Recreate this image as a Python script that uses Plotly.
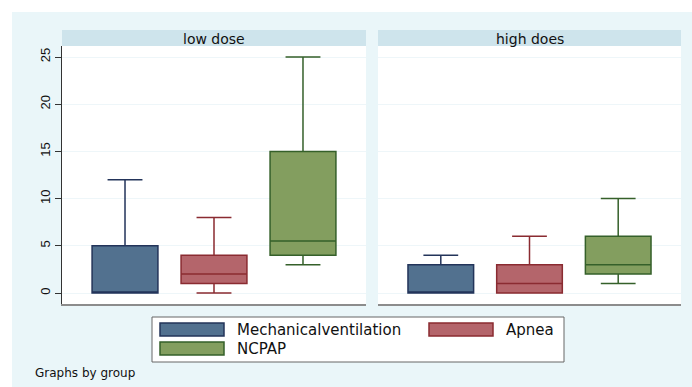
import plotly.graph_objects as go

W, H = 692, 387

panels = ["low dose", "high does"]
series = ["Mechanicalventilation", "Apnea", "NCPAP"]
positions = [-1, 0, 1]

# box statistics per panel, per series
lowerfence = {"low dose": [0, 0, 3], "high does": [0, 0, 1]}
q1 = {"low dose": [0, 1, 4], "high does": [0, 0, 2]}
median = {"low dose": [0, 2, 5.5], "high does": [0, 1, 3]}
q3 = {"low dose": [5, 4, 15], "high does": [3, 3, 6]}
upperfence = {"low dose": [12, 8, 25], "high does": [4, 6, 10]}

yticks = [0, 5, 10, 15, 20, 25]

fills = ["#52718F", "#B4656B", "#839E5F"]
lines = ["#23345A", "#8A2B31", "#35602A"]

FONT = "DejaVu Sans"
BG = "#EAF6F9"
STRIP = "#CEE4EC"

def px_x(p):
    return p / W

def px_y(p):
    return 1 - p / H

fig = go.Figure()
for pi, panel in enumerate(panels):
    xa = "x" if pi == 0 else "x2"
    ya = "y" if pi == 0 else "y2"
    for si, s in enumerate(series):
        fig.add_trace(go.Box(
            x=[positions[si]],
            q1=[q1[panel][si]], median=[median[panel][si]], q3=[q3[panel][si]],
            lowerfence=[lowerfence[panel][si]], upperfence=[upperfence[panel][si]],
            width=0.74, whiskerwidth=0.53,
            fillcolor=fills[si], line=dict(color=lines[si], width=1.5),
            boxpoints=False, name=s, showlegend=False,
            xaxis=xa, yaxis=ya,
        ))

dom1 = [px_x(62), px_x(366)]
dom2 = [px_x(378), px_x(681)]
ydom = [px_y(304), px_y(46)]
yr = [-1.165, 26.165]

xcommon = dict(range=[-1.708, 1.708], showticklabels=False, ticks="", showgrid=False,
               zeroline=False, showline=True, linecolor="#8C8C8C", linewidth=1.5)
fig.update_layout(
    width=W, height=H,
    margin=dict(l=0, r=0, t=0, b=0),
    paper_bgcolor=BG, plot_bgcolor="white",
    showlegend=False,
    font=dict(family=FONT, color="#111111"),
    xaxis=dict(domain=dom1, anchor="y", **xcommon),
    xaxis2=dict(domain=dom2, anchor="y2", **xcommon),
    yaxis=dict(domain=ydom, range=yr, anchor="x", tickvals=yticks,
               ticktext=[str(v) for v in yticks], tickangle=-90,
               ticks="outside", ticklen=6, tickcolor="#333333", tickwidth=1,
               showline=True, linecolor="#333333", linewidth=1.2,
               showgrid=True, gridcolor="#EEF6F9", gridwidth=1, zeroline=False,
               tickfont=dict(family="Liberation Sans", size=13, color="#111111"),
               automargin=False),
    yaxis2=dict(domain=ydom, range=yr, anchor="x2", tickvals=yticks,
                showticklabels=False, ticks="", showline=False,
                showgrid=True, gridcolor="#EEF6F9", gridwidth=1, zeroline=False),
)

shapes = []
annotations = []
# white outer strips
shapes.append(dict(type="rect", xref="paper", yref="paper", x0=0, x1=1,
                   y0=px_y(12), y1=1, fillcolor="white", line=dict(width=0), layer="above"))
shapes.append(dict(type="rect", xref="paper", yref="paper", x0=0, x1=px_x(12),
                   y0=0, y1=1, fillcolor="white", line=dict(width=0), layer="above"))
# strip headers
for dom, panel in zip([dom1, dom2], panels):
    shapes.append(dict(type="rect", xref="paper", yref="paper", x0=dom[0], x1=dom[1],
                       y0=px_y(46), y1=px_y(30), fillcolor=STRIP, line=dict(width=0)))
    annotations.append(dict(xref="paper", yref="paper", x=(dom[0] + dom[1]) / 2,
                            y=px_y(38.5), text=panel, showarrow=False,
                            font=dict(family=FONT, size=14, color="#111111"),
                            xanchor="center", yanchor="middle"))
# legend
shapes.append(dict(type="rect", xref="paper", yref="paper", x0=px_x(152), x1=px_x(564),
                   y0=px_y(362), y1=px_y(317), fillcolor="white",
                   line=dict(color="#666666", width=1)))
legend_pos = [(160, 323), (429, 323), (160, 342)]
for si, s in enumerate(series):
    lx, ly = legend_pos[si]
    shapes.append(dict(type="rect", xref="paper", yref="paper", x0=px_x(lx), x1=px_x(lx + 64),
                       y0=px_y(ly + 13), y1=px_y(ly), fillcolor=fills[si],
                       line=dict(color=lines[si], width=1.5)))
    annotations.append(dict(xref="paper", yref="paper", x=px_x(lx + 75), y=px_y(ly + 6.5),
                            text=s, showarrow=False, xanchor="left", yanchor="middle",
                            font=dict(family=FONT, size=15, color="#111111")))
annotations.append(dict(xref="paper", yref="paper", x=px_x(33), y=px_y(373),
                        text="Graphs by group", showarrow=False, xanchor="left",
                        yanchor="middle", font=dict(family=FONT, size=12, color="#111111")))

fig.update_layout(shapes=shapes, annotations=annotations)
fig.write_html("out.html", config={"displayModeBar": False},
               post_script="document.body.style.margin='0';document.body.style.overflow='hidden';")
